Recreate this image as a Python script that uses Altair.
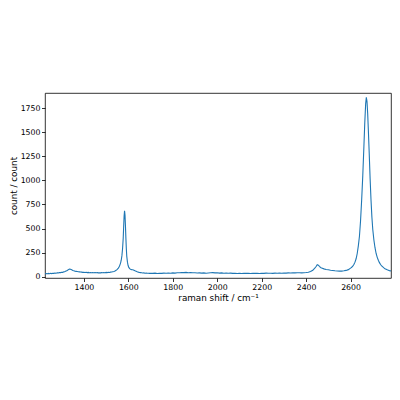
import altair as alt
import pandas as pd

# Raman spectrum (raman shift in cm^-1, counts)
shift_a = [1225, 1230, 1235, 1240, 1245, 1250, 1255, 1260, 1265, 1270, 1275, 1280, 1285, 1290, 1295,
           1300, 1305, 1310, 1315, 1320, 1325, 1330, 1335, 1340, 1345, 1350, 1355, 1360, 1365, 1370,
           1375, 1380, 1385, 1390, 1395, 1400, 1405, 1410, 1415, 1420, 1425, 1430, 1435, 1440, 1445,
           1450, 1455, 1460, 1465, 1470, 1475, 1480, 1485, 1490, 1495, 1500, 1505, 1510, 1515, 1520,
           1525, 1530, 1535, 1540, 1545, 1550, 1555, 1560]
counts_a = [28, 32, 30, 33, 29, 34, 31, 35, 33, 37, 35, 39, 38, 42, 41,
            45, 44, 49, 52, 58, 64, 72, 78, 76, 70, 64, 60, 56, 54, 52,
            50, 49, 47, 46, 44, 45, 43, 44, 41, 43, 40, 42, 39, 41, 40,
            42, 39, 41, 38, 40, 38, 41, 39, 42, 40, 43, 41, 44, 43, 46,
            47, 50, 53, 58, 65, 74, 88, 108]

# G band
shift_g = [1565, 1568, 1571, 1574, 1577, 1579, 1581, 1583, 1585, 1587, 1589, 1591, 1593, 1596,
           1599, 1602, 1606, 1610, 1615, 1620, 1625, 1630, 1635, 1640, 1645, 1650, 1655, 1660,
           1665, 1670, 1675, 1680, 1685, 1690, 1695]
counts_g = [140, 170, 215, 290, 400, 520, 630, 685, 640, 530, 400, 290, 210, 150,
            115, 95, 82, 76, 72, 70, 66, 60, 55, 50, 46, 43, 41, 39,
            37, 38, 35, 36, 34, 35, 33]

# flat region
shift_b = [1700, 1710, 1720, 1730, 1740, 1750, 1760, 1770, 1780, 1790, 1800, 1810, 1820, 1830,
           1840, 1850, 1860, 1870, 1880, 1890, 1900, 1910, 1920, 1930, 1940, 1950, 1960, 1970,
           1980, 1990, 2000, 2010, 2020, 2030, 2040, 2050, 2060, 2070, 2080, 2090, 2100, 2110,
           2120, 2130, 2140, 2150, 2160, 2170, 2180, 2190, 2200, 2210, 2220, 2230, 2240, 2250,
           2260, 2270, 2280, 2290, 2300, 2310, 2320, 2330, 2340, 2350, 2360, 2370]
counts_b = [35, 33, 36, 32, 35, 33, 36, 34, 37, 35, 38, 36, 39, 40,
            42, 41, 43, 40, 42, 39, 40, 37, 38, 36, 38, 35, 37, 39,
            41, 38, 40, 36, 38, 35, 37, 34, 36, 33, 35, 32, 34, 32,
            35, 33, 34, 32, 35, 33, 34, 32, 35, 33, 36, 34, 35, 33,
            36, 34, 37, 35, 37, 36, 38, 37, 39, 38, 40, 39]

# D+D'' bump and 2D band
shift_c = [2380, 2390, 2400, 2410, 2420, 2430, 2440, 2445, 2450, 2455, 2460, 2465, 2470, 2480,
           2490, 2500, 2510, 2520, 2530, 2540, 2550, 2560, 2570, 2580, 2590, 2600, 2605, 2610,
           2615, 2620, 2625, 2630, 2635, 2640, 2645, 2650, 2655, 2660, 2664, 2668, 2671, 2674,
           2677, 2680, 2684, 2688, 2692, 2696, 2700, 2705, 2710, 2715, 2720, 2725, 2730, 2735,
           2740, 2745, 2750, 2755, 2760, 2765, 2770, 2775, 2780, 2782]
counts_c = [38, 40, 42, 45, 52, 65, 90, 105, 124, 118, 105, 95, 88, 80,
            74, 70, 66, 63, 60, 58, 57, 57, 60, 64, 72, 88, 97, 108,
            125, 150, 185, 240, 320, 420, 580, 800, 1050, 1350, 1600, 1800, 1865, 1820,
            1700, 1530, 1280, 1020, 800, 620, 490, 380, 300, 240, 200, 170, 145, 125,
            110, 100, 90, 82, 76, 70, 66, 62, 59, 57]

shift = shift_a + shift_g + shift_b + shift_c
counts = counts_a + counts_g + counts_b + counts_c
df = pd.DataFrame({"shift": shift, "counts": counts})

x_ticks = [1400, 1600, 1800, 2000, 2200, 2400, 2600]
y_ticks = [0, 250, 500, 750, 1000, 1250, 1500, 1750]

FONT = "DejaVu Sans"

chart = (
    alt.Chart(df)
    .mark_line(color="#1f77b4", strokeWidth=1.1, clip=True)
    .encode(
        x=alt.X(
            "shift:Q",
            scale=alt.Scale(domain=[1225, 2782], nice=False, zero=False),
            axis=alt.Axis(values=x_ticks, title="raman shift / cm⁻¹", format="d",
                          titlePadding=3),
        ),
        y=alt.Y(
            "counts:Q",
            scale=alt.Scale(domain=[-15, 1910], nice=False, zero=False),
            axis=alt.Axis(values=y_ticks, title="count / count", format="d",
                          titlePadding=2),
        ),
    )
    .properties(
        width=346,
        height=185,
        autosize=alt.AutoSizeParams(type="none"),
        padding={"left": 37, "top": 85, "right": 1, "bottom": 100},
        background="white",
    )
    .configure_view(stroke="black", strokeWidth=0.8)
    .configure_axis(
        grid=False,
        domain=False,
        ticks=True,
        tickSize=3.5,
        tickWidth=0.8,
        tickColor="black",
        labelFont=FONT,
        labelFontSize=7.8,
        labelColor="black",
        labelPadding=1.5,
        titleFont=FONT,
        titleFontSize=8.8,
        titleFontWeight="normal",
        titleColor="black",
    )
)

chart.save("out.html", embed_options={"renderer": "svg", "actions": False})
